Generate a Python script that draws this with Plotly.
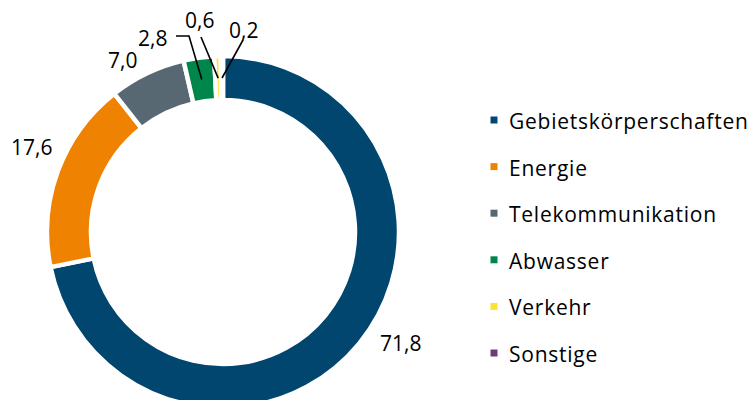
import math
import plotly.graph_objects as go

# ---- data ----
categories = ["Gebietskörperschaften", "Energie", "Telekommunikation",
              "Abwasser", "Verkehr", "Sonstige"]
values = [71.8, 17.6, 7.0, 2.8, 0.6, 0.2]
value_labels = ["71,8", "17,6", "7,0", "2,8", "0,6", "0,2"]
colors = ["#00466f", "#ef8200", "#586873", "#00854a", "#fde232", "#6b3e7b"]

# ---- layout constants (pixels) ----
W, H = 754, 410
CX, CY = 223, 232
R_OUT = 176
HOLE = 0.75
LINE_W = 4.5
FONT = "Open Sans"

# label text centres and optional leader start points (pixel)
label_pos = [(400, 342.5), (31.5, 146.5), (122.5, 60), (152, 37.5), (199, 20), (243, 29.5)]
leader_start = [None, None, None, [(176, 36), (189, 36)], [(201, 37)], [(243, 40)]]

LEG_X, LEG_Y0, LEG_DY = 494, 120, 46.6

fig = go.Figure()
fig.add_trace(go.Pie(
    labels=categories, values=values, sort=False, direction="clockwise", rotation=0,
    hole=HOLE, textinfo="none", showlegend=False,
    marker=dict(colors=colors, line=dict(color="white", width=LINE_W)),
    domain=dict(x=[(CX - R_OUT) / W, (CX + R_OUT) / W],
                y=[(H - CY - R_OUT) / H, (H - CY + R_OUT) / H]),
))

total = sum(values)
r_mid = (R_OUT * HOLE + R_OUT) / 2
cum = 0.0
annotations = []
shapes = []
for i, v in enumerate(values):
    mid = (cum + v / 2) / total * 2 * math.pi
    cum += v
    ex = CX + r_mid * math.sin(mid)
    ey = CY - r_mid * math.cos(mid)
    tx, ty = label_pos[i]
    annotations.append(dict(x=tx, y=ty, xref="x", yref="y", text=value_labels[i],
                            showarrow=False, xanchor="center", yanchor="middle",
                            font=dict(family=FONT, size=21, color="#000000")))
    if leader_start[i]:
        pts = leader_start[i] + [(ex, ey)]
        path = "M " + " L ".join(f"{px},{py}" for px, py in pts)
        shapes.append(dict(type="path", path=path, xref="x", yref="y", layer="above",
                           line=dict(color="#000000", width=1.6)))

# legend built from categories
for i, (c, col) in enumerate(zip(categories, colors)):
    y = LEG_Y0 + i * LEG_DY
    fig.add_trace(go.Scatter(x=[LEG_X], y=[y], mode="markers", showlegend=False,
                             hoverinfo="skip",
                             marker=dict(symbol="square", size=7, color=col)))
    annotations.append(dict(x=LEG_X + 13, y=y + 1, xref="x", yref="y", text=c,
                            showarrow=False, xanchor="left", yanchor="middle",
                            font=dict(family=FONT, size=21, color="#000000")))

fig.update_layout(
    width=W, height=H, margin=dict(l=0, r=0, t=0, b=0),
    paper_bgcolor="white", plot_bgcolor="white",
    xaxis=dict(range=[0, W], visible=False, fixedrange=True),
    yaxis=dict(range=[H, 0], visible=False, fixedrange=True),
    annotations=annotations, shapes=shapes, showlegend=False,
)

fig.write_html("out.html", config={"displayModeBar": False},
               post_script="document.documentElement.style.overflow='hidden';"
                           "document.body.style.overflow='hidden';"
                           "document.body.style.margin='0';"
                           "document.querySelectorAll('text.annotation-text').forEach(function(t){"
                           "if(t.textContent.length>4){var b=t.getBBox();"
                           "t.setAttribute('text-anchor','start');t.setAttribute('x',b.x);"
                           "t.style.textAnchor='start';t.style.letterSpacing='0.75px';}});")
